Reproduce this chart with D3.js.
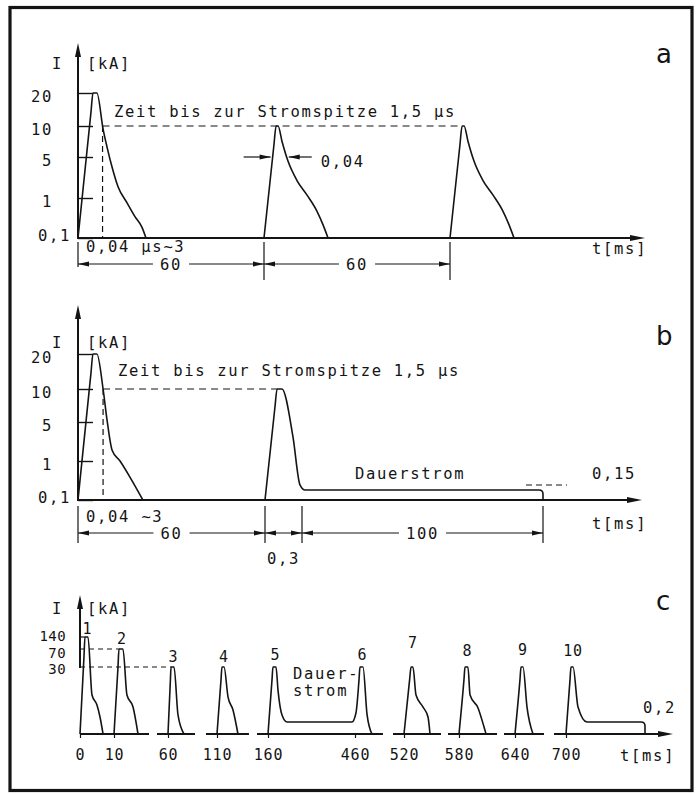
<!DOCTYPE html>
<html>
<head>
<meta charset="utf-8">
<script src="https://cdn.jsdelivr.net/npm/d3@7"></script>
<style>
  body { margin: 0; background: #fff; }
  svg text { font-family: "DejaVu Sans Mono", "Liberation Mono", monospace; font-size: 15.5px; letter-spacing: 1.7px; fill: #141414; }
  svg text.panel { font-family: "DejaVu Sans", sans-serif; font-size: 26px; letter-spacing: 0; }
  svg text.small { font-size: 15px; letter-spacing: 0.8px; }
  svg text.tiny { font-size: 14px; letter-spacing: 0.4px; }
</style>
</head>
<body>
<svg id="chart" width="698" height="794"></svg>
<script>
// ---------- data ----------
// current axis of panels a and b (kA), drawn on a schematic log-like spacing
const yTicksAB = [0.1, 1, 5, 10, 20];
const yTickLabelsAB = ["0,1", "1", "5", "10", "20"];

// stroke profiles: [schematic time unit, kA]; a stroke of ~3 ms is drawn stretched
// panel a
const strokeTimesA = [0, 60, 120]; // ms
const firstStrokeA = [[0, 0.1], [0.59, 14.2], [0.68, 20], [0.86, 20], [1.14, 9.5], [1.32, 6.6], [1.55, 4.0], [1.82, 2.1], [2.23, 0.89], [2.59, 0.58], [2.91, 0.34], [3.09, 0.1]];
const nextStrokeA = [[0, 0.1], [0.45, 6.9], [0.55, 10], [0.64, 10], [0.82, 7.5], [1.09, 4.6], [1.5, 2.7], [1.95, 1.3], [2.41, 0.7], [2.68, 0.4], [2.91, 0.1]];
const dimsA = [[0, 60, "60"], [60, 120, "60"]];

// panel b
const strokeTimesB = [0, 60];
const timeMarksB = [0, 60, 60.3, 160.3];
const firstStrokeB = [[0, 0.1], [0.59, 14.6], [0.68, 20], [0.86, 20], [1.14, 10], [1.32, 5.3], [1.55, 2.1], [1.91, 1.0], [2.36, 0.53], [2.95, 0.1]];
const nextStrokeB = [[0, 0.1], [0.45, 7.2], [0.55, 10], [0.77, 10], [1.27, 3.5], [1.59, 0.3], [1.82, 0.15]];
const contLevelB = 0.15; // kA, Dauerstrom
const contEndB = 160.3;  // ms
const dimsB = [[0, 60, "60"], [60, 60.3, "0,3"], [60.3, 160.3, "100"]];

// panel c
const timesC = [0, 10, 60, 110, 160, 460, 520, 580, 640, 700]; // ms
const strokeNamesC = ["1", "2", "3", "4", "5", "6", "7", "8", "9", "10"];
const yTicksC = [30, 70, 140];
const refStrokeC = [2, 1, 0]; // stroke whose peak each tick level points to
const shapesC = [
  [[0, 0], [0.5, 54], [0.62, 140], [1, 140], [1.5, 14.8], [2.12, 9.4], [2.5, 2.9], [2.88, 0]],
  [[0, 0], [0.5, 30], [0.62, 70], [1.12, 70], [1.62, 14.8], [2.38, 8.3], [3, 0]],
  [[0, 0], [0.3, 23], [0.38, 30], [0.75, 30], [1.25, 4.0], [2, 0]],
  [[0, 0], [0.5, 23], [0.62, 30], [0.88, 30], [1.38, 13.7], [2, 6.7], [2.62, 0]],
  [[0, 0], [0.5, 23], [0.62, 30], [1, 30], [1.25, 17.5], [1.75, 4.0], [2.38, 0.2]],
  [[-0.38, 0.2], [0.12, 5.1], [0.5, 23], [0.62, 30], [1, 30], [1.5, 4.5], [2.12, 0]],
  [[0, 0], [0.7, 23], [0.88, 30], [1.12, 30], [1.5, 14.8], [2.38, 8.3], [3, 2.9], [3.25, 0]],
  [[0, 0], [0.62, 23], [0.75, 30], [1.12, 30], [1.38, 14.8], [2.38, 7.8], [3.12, 0.12], [3.38, 0]],
  [[0, 0], [0.62, 23], [0.75, 30], [1, 30], [1.5, 8.3], [2.25, 0]],
  [[0, 0], [0.5, 23], [0.62, 30], [0.88, 30], [1.5, 8.3], [2.62, 0.2]]
];
const contLevelC = 0.2;      // kA
const joinNextC = [4];       // stroke 5 runs on Dauerstrom into stroke 6
const contEndC = 775;        // ms, end of the last Dauerstrom (estimated)
const axisGroupC = [0, 0, 1, 2, 3, 3, 4, 5, 6, 7];

// ---------- helpers ----------
const ink = "#141414";
const svg = d3.select("#chart");
const curve = d3.line().curve(d3.curveMonotoneX);

svg.append("rect")
  .attr("x", 10).attr("y", 7.5).attr("width", 682).attr("height", 783)
  .attr("fill", "none").attr("stroke", ink).attr("stroke-width", 3.2);

function arrowHead(g, x, y, angle, len = 11, hw = 2.6) {
  g.append("path")
    .attr("d", `M0,0 L${-len},${-hw} L${-len},${hw} Z`)
    .attr("transform", `translate(${x},${y}) rotate(${angle})`)
    .attr("fill", ink);
}

function hLine(g, x1, x2, y, w = 1.3, dash = null) {
  g.append("line").attr("x1", x1).attr("x2", x2).attr("y1", y).attr("y2", y)
    .attr("stroke", ink).attr("stroke-width", w).attr("stroke-dasharray", dash);
}

function vLine(g, x, y1, y2, w = 1.3, dash = null) {
  g.append("line").attr("x1", x).attr("x2", x).attr("y1", y1).attr("y2", y2)
    .attr("stroke", ink).attr("stroke-width", w).attr("stroke-dasharray", dash);
}

function label(g, x, y, txt, anchor = "start", cls = null) {
  return g.append("text").attr("x", x).attr("y", y).attr("dy", "0.36em")
    .attr("text-anchor", anchor).attr("class", cls).text(txt);
}

function dimension(g, x1, x2, y, txt, below) {
  if (below) {
    hLine(g, x1, x2, y, 1.2);
    label(g, (x1 + x2) / 2, y + 25, txt, "middle");
  } else {
    const t = label(g, (x1 + x2) / 2, y, txt, "middle");
    const b = t.node().getBBox();
    hLine(g, x1, b.x - 7, y, 1.2);
    hLine(g, b.x + b.width + 7, x2, y, 1.2);
  }
  arrowHead(g, x1, y, 180);
  arrowHead(g, x2, y, 0);
}

function profilePts(profile, t0, x, p, y) {
  return profile.map(([u, v]) => [x(t0) + p(u), y(v)]);
}

function drawPath(g, pts) {
  g.append("path").attr("d", curve(pts))
    .attr("fill", "none").attr("stroke", ink).attr("stroke-width", 1.6)
    .attr("stroke-linejoin", "round");
}

// rounded drop from the Dauerstrom level down to the time axis
function contEnd(g, xe, yc, yb, r = 4) {
  g.append("path").attr("d", `M${xe - r},${yc} Q${xe},${yc} ${xe},${yc + r} V${yb}`)
    .attr("fill", "none").attr("stroke", ink).attr("stroke-width", 1.6);
}

function riseX(pts, yv) {
  for (let i = 1; i < pts.length; i++) {
    const [x0, y0] = pts[i - 1], [x1, y1] = pts[i];
    if (y0 >= yv && y1 <= yv) return x0 + (x1 - x0) * (y0 - yv) / (y0 - y1);
  }
}

function fallX(pts, yv) {
  for (let i = pts.length - 1; i > 0; i--) {
    const [x0, y0] = pts[i - 1], [x1, y1] = pts[i];
    if (y0 <= yv && y1 >= yv) return x0 + (x1 - x0) * (yv - y0) / (y1 - y0);
  }
}

const peakX = pts => pts[d3.minIndex(pts, p => p[1])][0];

function peakMid(pts) {
  const m = d3.min(pts, p => p[1]);
  return [d3.mean(pts.filter(p => p[1] === m), p => p[0]), m];
}

function yAxis(g, y, ticks, labels, x0, top, tickLen, pad) {
  const ax = g.append("g").attr("transform", `translate(${x0},0)`)
    .call(d3.axisLeft(y).tickValues(ticks).tickSize(-tickLen).tickPadding(pad)
      .tickFormat((d, i) => labels[i]));
  ax.select(".domain").remove();
  ax.selectAll(".tick line").attr("stroke", ink).attr("stroke-width", 1.4);
  vLine(g, x0, y(ticks[0]) + 1, top + 8, 2);
  arrowHead(g, x0, top, -90, 14, 3);
  return ax;
}

function xAxisLine(g, x1, x2, y) {
  hLine(g, x1 - 1, x2 - 8, y, 2);
  arrowHead(g, x2, y, 0, 15, 3);
}

// ---------- panel a ----------
const gA = svg.append("g");
const xA = d3.scaleLinear().domain([0, 120]).range([78, 450]);
const yA = d3.scaleLinear().domain(yTicksAB).range([238, 198, 157, 126, 93]);
const pAB = d3.scaleLinear().domain([0, 3]).range([0, 66]);
const baseA = yA(0.1);

const axA = yAxis(gA, yA, yTicksAB, yTickLabelsAB, xA(0), 43, 15, 25);
axA.selectAll(".tick text").attr("dy", "0.55em");
axA.selectAll(".tick text").filter(d => d === 0.1).attr("x", -7).attr("dy", "0.15em");
xAxisLine(gA, xA(0), 645, baseA);

const ptsA = strokeTimesA.map((t, i) => profilePts(i === 0 ? firstStrokeA : nextStrokeA, t, xA, pAB, yA));
ptsA.forEach(p => drawPath(gA, p));

const fA = fallX(ptsA[0], yA(10));
hLine(gA, fA, peakX(ptsA[2]), yA(10), 1.2, "7,5");
vLine(gA, fA, yA(10), baseA, 1.2, "6,4");

// width of a subsequent stroke at 5 kA
const y5 = yA(5);
const r1 = riseX(ptsA[1], y5), f1 = fallX(ptsA[1], y5);
hLine(gA, r1 - 29, r1 - 2, y5, 1.2);
arrowHead(gA, r1 - 2, y5, 0);
hLine(gA, f1 + 2, f1 + 25, y5, 1.2);
arrowHead(gA, f1 + 2, y5, 180);
label(gA, f1 + 34, y5 + 4, "0,04");

label(gA, 114, 111, "Zeit bis zur Stromspitze 1,5 µs");
label(gA, 52, 63, "I");
label(gA, 87, 63, "[kA]");
label(gA, 592, 248, "t[ms]");
gA.append("text").attr("class", "panel").attr("x", 656).attr("y", 63).text("a");

const dimYA = baseA + 26;
label(gA, 86, baseA + 8, "0,04 µs∼3");
vLine(gA, xA(0), baseA + 4, dimYA + 3, 1.2);
strokeTimesA.slice(1).forEach(t => vLine(gA, xA(t), baseA + 4, baseA + 42, 1.2));
dimsA.forEach(([t1, t2, s]) => dimension(gA, xA(t1), xA(t2), dimYA, s));

// ---------- panel b ----------
const gB = svg.append("g");
const xB = d3.scaleLinear().domain(timeMarksB).range([78, 265, 302, 543]);
const yB = d3.scaleLinear().domain([0.1, contLevelB, 1, 5, 10, 20]).range([500, 490, 461, 422, 389, 354]);
const baseB = yB(0.1);

const axB = yAxis(gB, yB, yTicksAB, yTickLabelsAB, xB(0), 305, 15, 25);
axB.selectAll(".tick text").attr("dy", "0.55em");
axB.selectAll(".tick text").filter(d => d === 0.1).attr("x", -7).attr("dy", "0.15em");
xAxisLine(gB, xB(0), 642, baseB);

const b1 = profilePts(firstStrokeB, strokeTimesB[0], xB, pAB, yB);
const b2 = profilePts(nextStrokeB, strokeTimesB[1], xB, pAB, yB);
drawPath(gB, b1);
drawPath(gB, b2.concat([[xB(contEndB) - 4, yB(contLevelB)]]));
contEnd(gB, xB(contEndB), yB(contLevelB), baseB);

const fB = fallX(b1, yB(10));
hLine(gB, fB, peakX(b2), yB(10), 1.2, "7,5");
vLine(gB, fB, yB(10), baseB, 1.2, "6,4");

label(gB, 118, 370, "Zeit bis zur Stromspitze 1,5 µs");
label(gB, 52, 342, "I");
label(gB, 87, 342, "[kA]");
label(gB, xB(60.3) + 53, yB(contLevelB) - 17, "Dauerstrom");
label(gB, 592, yB(contLevelB) - 17, "0,15");
hLine(gB, xB(contEndB) - 17, xB(contEndB) + 24, yB(contLevelB) - 5, 1.2, "6,4");
label(gB, 592, 523, "t[ms]");
gB.append("text").attr("class", "panel").attr("x", 656).attr("y", 345).text("b");

const dimYB = baseB + 33;
label(gB, 86, baseB + 16, "0,04 ∼3");
timeMarksB.forEach(t => vLine(gB, xB(t), baseB + 6, baseB + 43, 1.2));
dimsB.forEach(([t1, t2, s]) => dimension(gB, xB(t1), xB(t2), dimYB, s, t2 - t1 < 1));

// ---------- panel c ----------
const gC = svg.append("g");
const xC = d3.scaleLinear().domain([...timesC, contEndC])
  .range([80, 114, 168, 217, 268, 355, 404, 459, 515, 566, 645]);
const yC = d3.scaleLinear().domain([0, contLevelC, ...yTicksC]).range([734, 722, 667, 649, 637]);
const pC = d3.scaleLinear().domain([0, 3]).range([0, 24]);
const baseC = yC(0);

const axYC = yAxis(gC, yC, yTicksC, yTicksC.map(String), xC(0), 595, 0, 14);
const tickShiftC = [1, 3, -2]; // labels spread apart where ticks crowd
axYC.selectAll(".tick text").attr("class", "tiny")
  .attr("y", (d, i) => tickShiftC[i]).attr("dy", "0.36em");

const ptsC = timesC.map((t, i) => profilePts(shapesC[i], t, xC, pC, yC));

// broken time axis, one piece per group of strokes
const groupsC = d3.groups(ptsC.map((p, i) => ({ p, g: axisGroupC[i] })), d => d.g);
groupsC.forEach(([, items], k) => {
  const xs = items.flatMap(d => d.p.map(q => q[0]));
  const x1 = k === 0 ? xC(0) : d3.min(xs) - 11;
  if (k === groupsC.length - 1) xAxisLine(gC, x1, 673, baseC);
  else hLine(gC, x1, d3.max(xs) + 11, baseC, 2);
});

const axC = gC.append("g").attr("transform", `translate(0,${baseC})`)
  .call(d3.axisBottom(xC).tickValues(timesC).tickSize(4).tickPadding(11).tickFormat(d => String(d)));
axC.select(".domain").remove();
axC.selectAll(".tick line").attr("stroke", ink).attr("stroke-width", 1.2);
axC.selectAll(".tick text").attr("class", "small");

for (let i = 0; i < ptsC.length; i++) {
  if (joinNextC.includes(i)) { drawPath(gC, ptsC[i].concat(ptsC[i + 1])); i++; continue; }
  if (i === ptsC.length - 1) {
    drawPath(gC, ptsC[i].concat([[xC(contEndC) - 4, yC(contLevelC)]]));
    contEnd(gC, xC(contEndC), yC(contLevelC), baseC);
  } else drawPath(gC, ptsC[i]);
}

yTicksC.forEach((v, i) => {
  const px = peakX(ptsC[refStrokeC[i]]);
  const dashed = px - xC(0) > 12;
  hLine(gC, xC(0), px, yC(v), 1.2, dashed ? "5,4" : null);
});

const liftC = [8, 10, 10, 10, 12, 12, 24, 16, 17, 16];
ptsC.forEach((p, i) => {
  const [mx, my] = peakMid(p);
  label(gC, mx + 1, my - liftC[i], strokeNamesC[i], "middle", "small");
});

label(gC, 52, 608, "I");
label(gC, 87, 608, "[kA]");
label(gC, xC(160) + 25, 673, "Dauer-");
label(gC, xC(160) + 25, 690, "strom");
label(gC, xC(contEndC) - 2, yC(contLevelC) - 15, "0,2");
label(gC, 620, 755, "t[ms]");
gC.append("text").attr("class", "panel").attr("x", 656).attr("y", 610).text("c");
</script>
</body>
</html>
